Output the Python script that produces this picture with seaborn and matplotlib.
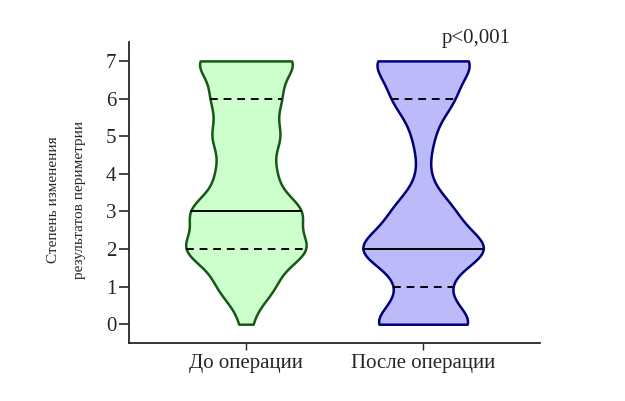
import numpy as np
import pandas as pd
import matplotlib
matplotlib.use("Agg")
import matplotlib.pyplot as plt
import seaborn as sns

# grades 0..7 and how many patients got each grade
grades = [0, 1, 2, 3, 4, 5, 6, 7]
groups = ['До операции', 'После операции']
counts_before = [1, 5, 11, 10, 5, 6, 6, 9]
counts_after = [10, 4, 13, 6, 1, 2, 6, 10]

fills = ['#ccffcc', '#bbbbfa']
edges = ['#145a14', '#00007a']
bw = [0.5, 0.43]  # smoothing per group

rows = []
for g, cnt in zip(groups, [counts_before, counts_after]):
    for v, c in zip(grades, cnt):
        rows += [(g, v)] * c
df = pd.DataFrame(rows, columns=['group', 'score'])

sns.set_style("ticks")
plt.rcParams['font.family'] = ['Liberation Serif', 'DejaVu Serif']

fig = plt.figure(figsize=(6.25, 4.01), dpi=100)
ax = fig.add_axes([0.2064, 0.1446, 0.6576, 0.7504])

for g, fc, b in zip(groups, fills, bw):
    sns.violinplot(data=df[df['group'] == g], x='group', y='score', order=groups,
                   color=fc, inner='quart', cut=0, bw_adjust=b,
                   density_norm='width', width=0.68, linecolor='black',
                   linewidth=1.3, saturation=1, ax=ax)

# violin outlines in their own dark colour
for coll, ec in zip(ax.collections, edges):
    coll.set_edgecolor(ec)
    coll.set_linewidth(1.8)
    coll.set_alpha(1)

# median solid, quartiles dashed
for i, ln in enumerate(ax.lines):
    ln.set_color('black')
    ln.set_linewidth(1.4)
    if i % 3 == 1:
        ln.set_linestyle('-')
    else:
        ln.set_linestyle((0, (4, 3)))

ax.set_ylim(-0.5, 7.5)
ax.set_xlim(-0.66, 1.66)
ax.set_yticks(range(0, 8))
ax.tick_params(axis='y', labelsize=15, length=7, width=1.2, pad=2)
ax.tick_params(axis='x', labelsize=15, length=5, width=1, pad=3)
ax.set_xlabel('')
ax.set_ylabel('Степень изменения\nрезультатов периметрии', fontsize=11,
              linespacing=2.3)
ax.yaxis.set_label_coords(-0.152, 0.475)
ax.yaxis.label.set_verticalalignment('center')
sns.despine(ax=ax)
for s in ['left', 'bottom']:
    ax.spines[s].set_linewidth(1.3)

ax.text(1.30, 7.6, 'p<0,001', ha='center', va='center', fontsize=15, clip_on=False)

fig.savefig('out.png', dpi=100)
